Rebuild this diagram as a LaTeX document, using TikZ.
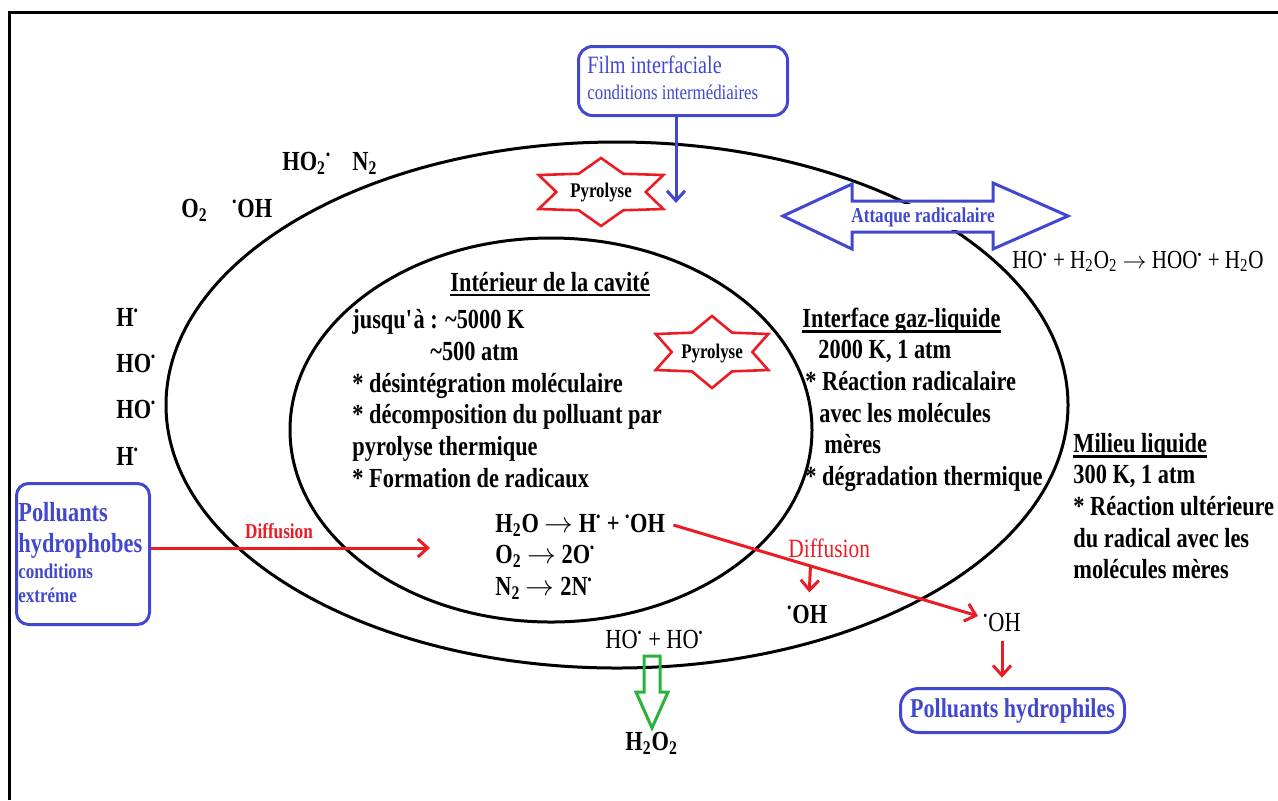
\documentclass[tikz,border=0pt]{standalone}
\usepackage{fontspec}
\setmainfont{Liberation Serif}[FakeStretch=0.81]
\usetikzlibrary{arrows.meta,calc}
\definecolor{bleu}{RGB}{66,72,206}
\definecolor{rouge}{RGB}{234,28,36}
\definecolor{vert}{RGB}{40,180,60}
\newcommand{\fs}[1]{\fontsize{#1}{#1}\selectfont}
\newcommand{\rad}{\textsuperscript{\fs{7}•}}
\newcommand{\fl}{\ensuremath{\rightarrow}}
\tikzset{
  txt/.style={inner sep=0pt, anchor=base west, font=\fs{13.8}\bfseries},
  txtr/.style={txt, font=\fs{13.8}},
  bluebox/.style={draw=bleu, line width=1.5pt, rounded corners=6pt},
  redarrow/.style={rouge, line width=1.5pt, -{Straight Barb[length=5pt,width=9pt]}},
  bluearrow/.style={bleu, line width=1.5pt, -{Straight Barb[length=5pt,width=9pt]}},
  starline/.style={rouge, line width=1.3pt},
  soul/.style={line width=1.2pt}
}
% star with 6 points round (#1,#2), radii #3 and #4
\newcommand{\etoile}[4]{%
  \draw[starline] ([shift={(#1,#2)}]90:#3 and #4)
    \foreach \k [evaluate=\k as \f using {ifthenelse(mod(\k,2)==0,1,0.62)}] in {1,...,11}
      { -- ([shift={(#1,#2)}]{90+30*\k}:{\f*#3} and {\f*#4}) } -- cycle;}

\begin{document}
\begin{tikzpicture}[x=0.5pt,y=-0.5pt]
  \useasboundingbox (0,0) rectangle (1278,800);
  \draw[line width=1.5pt] (9,800) -- (9,12) -- (1278,12);

  % bulle et cavite
  \draw[line width=1.5pt] (617,405) ellipse [x radius=451, y radius=263];
  \draw[line width=1.5pt] (551,430) ellipse [x radius=261, y radius=192];

  % especes autour
  \node[txt] (hoo) at (282,170) {HO\textsubscript{2}\rad};
  \node[txt] (ntwo) at (352,170) {N\textsubscript{2}};
  \node[txt] (otwo) at (181,217) {O\textsubscript{2}};
  \node[txt] (ohA) at (232,217) {\rad OH};
  \foreach \lbl/\y [count=\i] in {H\rad/326, HO\rad/372, HO\rad/418, H\rad/465}
    \node[txt] (lst\i) at (116,\y) {\lbl};

  % film interfacial
  \node[bluebox, rounded corners=7pt, minimum width=104.5pt, minimum height=34.5pt] (film) at (683,81) {};
  \node[txtr, text=bleu, font=\fs{12.5}] (filmA) at (587,73) {Film interfaciale};
  \node[txtr, text=bleu, font=\fs{10.4}] (filmB) at (587,99) {conditions intermédiaires};
  \draw[bluearrow] ([xshift=-3.5pt]film.south) -- ++(0,86);

  \etoile{601}{192}{72}{34}
  \node[txt, anchor=center, font=\fs{10.4}\bfseries] (pyroA) at (601,193) {Pyrolyse};
  \etoile{712}{352}{65}{36}
  \node[txt, anchor=center, font=\fs{10.4}\bfseries] (pyroB) at (712,354) {Pyrolyse};

  % attaque radicalaire
  \draw[bleu, line width=1.5pt] (783,216) -- (852,184) -- (852,201) -- (993,201) -- (993,183)
    -- (1068,216) -- (993,249) -- (993,232) -- (852,232) -- (852,249) -- cycle;
  \node[fill=white, inner sep=0pt, minimum width=68pt, minimum height=13pt, text=bleu,
    font=\fs{10.6}\bfseries] (attaque) at (923,217) {Attaque radicalaire};
  \node[txtr, font=\fs{13}] (eq) at (1012,268) {HO\rad{} + H\textsubscript{2}O\textsubscript{2} \fl{} HOO\rad{} + H\textsubscript{2}O};

  % interieur de la cavite
  \foreach \lbl/\x/\y [count=\i] in {Intérieur de la cavité/450/291,
      jusqu\textquotesingle à : \textasciitilde5000 K/352/328, \textasciitilde500 atm/430/360,
      * désintégration moléculaire/352/392, * décomposition du polluant par/352/423,
      pyrolyse thermique/352/455, * Formation de radicaux/352/487}
    \node[txt] (cav\i) at (\x,\y) {\lbl};
  \draw[soul] ([yshift=-2pt]cav1.base west) -- ([yshift=-2pt]cav1.base east);

  % interface gaz-liquide
  \foreach \lbl/\x/\y [count=\i] in {Interface gaz-liquide/802/327, {2000 K, 1 atm}/818/358,
      * Réaction radicalaire/805/390, avec les molécules/819/422, mères/824/453,
      * dégradation thermique/805/485}
    \node[txt] (int\i) at (\x,\y) {\lbl};
  \draw[soul] ([yshift=-2.3pt]int1.base west) -- ([yshift=-2.3pt]int1.base east);

  % milieu liquide
  \foreach \lbl/\y [count=\i] in {Milieu liquide/452, {300 K, 1 atm}/483,
      * Réaction ultérieure/515, du radical avec les/547, molécules mères/578}
    \node[txt] (mil\i) at (1073,\y) {\lbl};
  \draw[soul] ([yshift=-2.3pt]mil1.base west) -- ([yshift=-2.3pt]mil1.base east);

  % polluants hydrophobes
  \node[bluebox, minimum width=66.5pt, minimum height=70.5pt] (pho) at (83,554) {};
  \node[txt, text=bleu] (phoA) at (18,521) {Polluants};
  \node[txt, text=bleu] (phoB) at (18,552) {hydrophobes};
  \node[txt, text=bleu, font=\fs{10.5}\bfseries] (phoC) at (18,578) {conditions};
  \node[txt, text=bleu, font=\fs{10.5}\bfseries] (phoD) at (18,602) {extréme};
  \node[txt, anchor=base, text=rouge, font=\fs{10.6}\bfseries] (diffA) at (279,538) {Diffusion};
  \coordinate (entree) at (430,548);
  \draw[redarrow] (pho.east |- entree) -- (entree);

  % reactions
  \node[txt] (reacA) at (495,532) {H\textsubscript{2}O \fl{} H\rad{} + \rad OH};
  \node[txt] (reacB) at (495,563) {O\textsubscript{2} \fl{} 2O\rad};
  \node[txt] (reacC) at (495,595) {N\textsubscript{2} \fl{} 2N\rad};

  \coordinate (d1) at ([xshift=4pt,yshift=3.5pt]reacA.base east);
  \coordinate (d2) at (978,616);
  \node[txtr, text=rouge, font=\fs{13.2}] (diffB) at (788,557) {Diffusion};
  \draw[redarrow] (d1) -- (d2);
  \node[txt] (ohB) at (787,623) {\rad OH};
  \draw[redarrow] ($(d1)!0.45!(d2)$) -- ([xshift=1pt,yshift=6pt]ohB.north);

  \node[txtr] (ohC) at (983,631) {\rad OH};
  \node[bluebox, rounded corners=9pt, minimum width=112pt, minimum height=22pt, text=bleu,
    font=\fs{13.6}\bfseries, inner sep=0pt] (phi) at (1012.5,710.5) {Polluants hydrophiles};
  \draw[redarrow] ([yshift=-4.5pt]ohC.south) -- ++(0,37);

  % recombinaison
  \node[txtr] (hoho) at (605,648) {HO\rad{} + HO\rad};
  \draw[vert, line width=1.5pt] (644,656) -- (644,692) -- (636,692) -- (652,728) -- (668,692)
    -- (660,692) -- (660,656) -- cycle;
  \node[txt] (hho) at (625,750) {H\textsubscript{2}O\textsubscript{2}};
\end{tikzpicture}
\end{document}
